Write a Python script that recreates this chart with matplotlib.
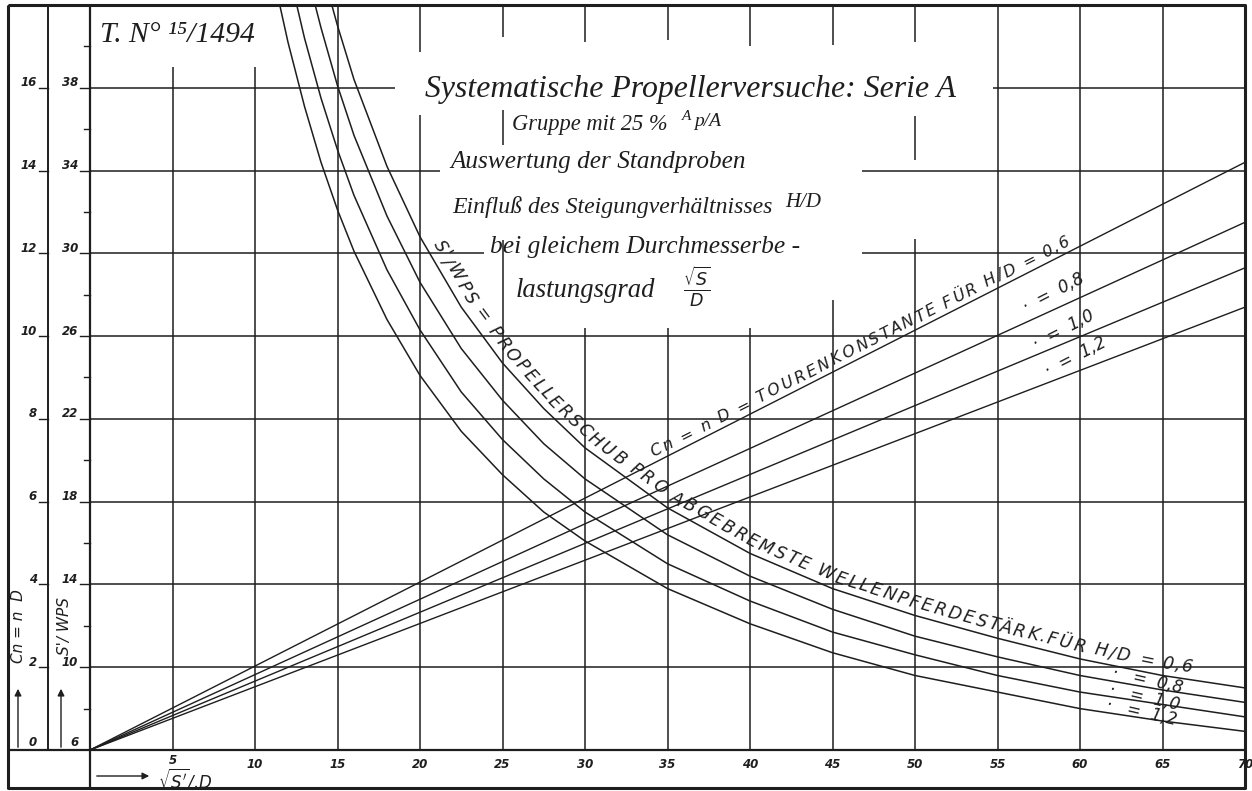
import numpy as np
import matplotlib
matplotlib.use("Agg")
import matplotlib.pyplot as plt
from matplotlib.lines import Line2D
from matplotlib.font_manager import FontProperties
from matplotlib.transforms import IdentityTransform, blended_transform_factory

# ---------------------------------------------------------------- data ----
pitch_labels = ["0,6", "0,8", "1,0", "1,2"]

# Cn = n*D (Tourenkonstante), straight lines through the origin
cn_x = [0, 70]
cn_06 = [0, 14.2]
cn_08 = [0, 12.75]
cn_10 = [0, 11.65]
cn_12 = [0, 10.7]

# S'/WPS (Propellerschub pro abgebremste Wellenpferdestaerke)
x_06 = [14, 15, 16, 18, 20, 22.5, 25, 27.5, 30, 35, 40, 45, 50, 55, 60, 65, 70]
s_06 = [43.9, 41.0, 38.4, 34.2, 30.8, 27.4, 24.7, 22.5, 20.6, 17.7, 15.5, 13.8,
        12.5, 11.4, 10.4, 9.6, 9.0]
x_08 = [13, 14, 15, 16, 18, 20, 22.5, 25, 27.5, 30, 35, 40, 45, 50, 55, 60, 65, 70]
s_08 = [44.0, 40.9, 38.1, 35.7, 31.8, 28.6, 25.4, 22.9, 20.8, 19.1, 16.4, 14.4,
        12.8, 11.5, 10.5, 9.6, 8.9, 8.3]
x_10 = [12, 13, 14, 15, 16, 18, 20, 22.5, 25, 27.5, 30, 35, 40, 45, 50, 55, 60,
        65, 70]
s_10 = [43.8, 40.4, 37.5, 35.0, 32.8, 29.2, 26.3, 23.3, 21.0, 19.1, 17.5, 15.0,
        13.2, 11.7, 10.6, 9.6, 8.8, 8.2, 7.6]
x_12 = [11, 12, 13, 14, 15, 16, 18, 20, 22.5, 25, 27.5, 30, 35, 40, 45, 50, 55,
        60, 65, 70]
s_12 = [43.8, 40.2, 37.1, 34.4, 32.1, 30.1, 26.8, 24.1, 21.4, 19.3, 17.5, 16.1,
        13.8, 12.1, 10.7, 9.6, 8.8, 8.0, 7.4, 6.9]

x_ticks = [5, 10, 15, 20, 25, 30, 35, 40, 45, 50, 55, 60, 65, 70]
cn_ticks = [2, 4, 6, 8, 10, 12, 14, 16]
swps_ticks = [10, 14, 18, 22, 26, 30, 34, 38]

# ------------------------------------------------------------- layout ----
W, H = 1252, 791
INK = "#1e1e1e"
fig = plt.figure(figsize=(W / 100, H / 100), dpi=100)
fig.patch.set_facecolor("white")
renderer = fig.canvas.get_renderer()

X0, X1 = 90, 1245      # pixel columns of sqrt(S')/D = 0 and 70
Y0, Y1 = 750, 5        # pixel rows of the base line and the top frame
CN_TOP = 18.0

ax = fig.add_axes([X0 / W, 1 - Y0 / H, (X1 - X0) / W, (Y0 - Y1) / H])
ax.set_xlim(0, 70)
ax.set_ylim(0, CN_TOP)
ax.axis("off")
ax2 = ax.twinx()
ax2.set_ylim(6, 6 + 2 * CN_TOP)   # S'/WPS = 6 + 2*Cn on the drawing
ax2.axis("off")


def fx(px):
    return px / W


def fy(py):
    return 1 - py / H


def fig_line(xs, ys, lw=1.0):
    fig.add_artist(Line2D([fx(v) for v in xs], [fy(v) for v in ys],
                          transform=fig.transFigure, color=INK, lw=lw,
                          solid_capstyle="butt"))


# ---------------------------------------------------------------- grid ----
GRID_LW = 1.1
h_segments = {16: [(0, 18.5), (54.7, 70)],
              14: [(0, 21.2), (46.8, 70)],
              12: [(0, 23.9), (46.8, 70)]}
for c in cn_ticks:
    for a, b in h_segments.get(c, [(0, 70)]):
        ax.hlines(c, a, b, color=INK, lw=GRID_LW)

v_segments = {5: [(0, 16.5)], 10: [(0, 16.5)],
              20: [(0, 15.34), (16.86, 18)],
              25: [(0, 12.32), (14.62, 15.46), (17.23, 18)],
              30: [(0, 10.2), (17.1, 18)],
              35: [(0, 10.2), (17.15, 18)],
              40: [(0, 10.2), (17.0, 18)],
              45: [(0, 10.87), (17.03, 18)],
              50: [(0, 12.35), (14.25, 15.32), (17.1, 18)]}
for xv in x_ticks[:-1]:
    for a, b in v_segments.get(xv, [(0, 18)]):
        ax.vlines(xv, a, b, color=INK, lw=GRID_LW)

# --------------------------------------------------------------- frame ----
fig_line([8, X1, X1, 8, 8], [Y1, Y1, 788, 788, Y1], lw=2.2)
fig_line([48, 48], [Y1, Y0], lw=1.4)
fig_line([X0, X0], [Y1, 788], lw=1.6)
fig_line([8, X1], [Y0, Y0], lw=1.6)

# ---------------------------------------------------------------- marks ----
for ys in (cn_06, cn_08, cn_10, cn_12):
    ax.plot(cn_x, ys, color=INK, lw=1.0, solid_capstyle="butt")
for xs, ys in ((x_06, s_06), (x_08, s_08), (x_10, s_10), (x_12, s_12)):
    ax2.plot(xs, ys, color=INK, lw=1.1)

# ----------------------------------------------------------- axis texts ----
tick_fp = dict(family="DejaVu Sans", style="italic", weight="bold",
               fontsize=8.5, color=INK)
cn_tr = blended_transform_factory(fig.transFigure, ax.transData)
sw_tr = blended_transform_factory(fig.transFigure, ax2.transData)
for c in cn_ticks:
    ax.text(fx(37), c + 0.12, str(c), transform=cn_tr, ha="right", va="center",
            **tick_fp)
    fig.add_artist(Line2D([fx(39), fx(48)], [c, c], transform=cn_tr,
                          color=INK, lw=1.0))
for s in swps_ticks:
    ax2.text(fx(78), s + 0.24, str(s), transform=sw_tr, ha="right",
             va="center", **tick_fp)
    fig.add_artist(Line2D([fx(80), fx(X0)], [s, s], transform=sw_tr,
                          color=INK, lw=1.0))
for c in range(1, 18, 2):
    fig.add_artist(Line2D([fx(84), fx(X0)], [c, c], transform=cn_tr,
                          color=INK, lw=1.0))
fig.text(fx(37), fy(743), "0", ha="right", va="center", **tick_fp)
fig.text(fx(79), fy(743), "6", ha="right", va="center", **tick_fp)

x_tr = blended_transform_factory(ax.transData, fig.transFigure)
for xv in x_ticks:
    ax.text(xv, fy(765 if xv > 5 else 761), str(xv), transform=x_tr,
            ha="center", va="center", clip_on=False, **tick_fp)

fig.text(fx(158), fy(779), r"$\sqrt{S'}$/.D", ha="left", va="center",
         family="DejaVu Sans", style="italic", fontsize=12, color=INK)
arrow = dict(arrowstyle="-|>", lw=1.0, color=INK, mutation_scale=10)
ax.annotate("", xy=(152, H - 776), xytext=(94, H - 776),
            xycoords="figure pixels", textcoords="figure pixels",
            arrowprops=arrow, annotation_clip=False)
for px in (18, 61):
    ax.annotate("", xy=(px, H - 686), xytext=(px, H - 750),
                xycoords="figure pixels", textcoords="figure pixels",
                arrowprops=arrow, annotation_clip=False)
fig.text(fx(19), fy(626), "Cn = n  D", rotation=90, ha="center", va="center",
         family="DejaVu Sans", style="italic", fontsize=11, color=INK)
fig.text(fx(64), fy(626), "S'/ WPS", rotation=90, ha="center", va="center",
         family="DejaVu Sans", style="italic", fontsize=11, color=INK)

# ---------------------------------------------------------------- title ----
SCRIPT = dict(family="Liberation Serif", style="italic", color=INK)


def fit_text(x0, x1, yb, s, size=16, **kw):
    t = fig.text(fx(x0), fy(yb), s, ha="left", va="baseline", fontsize=size,
                 **kw)
    w = t.get_window_extent(renderer).width
    t.set_fontsize(size * (x1 - x0) / w)
    return t


fit_text(100, 255, 42, "T. N° ¹⁵/1494", **SCRIPT)
fit_text(425, 955, 97, "Systematische Propellerversuche: Serie A", **SCRIPT)
fit_text(512, 668, 130, "Gruppe mit 25 %", **SCRIPT)
fig.text(fx(682), fy(120), "A", ha="left", va="baseline", fontsize=11,
         **SCRIPT)
fig.text(fx(694), fy(126), "p/A", ha="left", va="baseline", fontsize=14,
         **SCRIPT)
fit_text(450, 745, 168, "Auswertung der Standproben", **SCRIPT)
fit_text(452, 772, 213, "Einfluß des Steigungverhältnisses", **SCRIPT)
fig.text(fx(785), fy(207), "H/D", ha="left", va="baseline", fontsize=15,
         **SCRIPT)
fit_text(490, 800, 253, "bei gleichem Durchmesserbe -", **SCRIPT)
fit_text(516, 655, 297, "lastungsgrad", **SCRIPT)
fig.text(fx(697), fy(287), r"$\frac{\sqrt{S}}{D}$", ha="center", va="center",
         fontsize=18, color=INK)

# ------------------------------------------------------ labels on lines ----
LETTER = FontProperties(family="DejaVu Sans", style="oblique", size=12.5)
LETTER_CN = FontProperties(family="DejaVu Sans", style="oblique", size=11.5)


def text_on_path(trans, xs, ys, text, px_a, px_b, offset, fp):
    pts = trans.transform(np.column_stack([xs, ys]))
    seg = np.hypot(np.diff(pts[:, 0]), np.diff(pts[:, 1]))
    arc = np.concatenate([[0.0], np.cumsum(seg)])
    s_a = np.interp(px_a, pts[:, 0], arc)
    s_b = np.interp(px_b, pts[:, 0], arc)
    bar = renderer.get_text_width_height_descent("|", fp, ismath=False)[0]
    cum = [0.0] + [renderer.get_text_width_height_descent(text[:i] + "|", fp,
                                                          ismath=False)[0] - bar
                   for i in range(1, len(text) + 1)]
    scale = (s_b - s_a) / cum[-1]
    for i, ch in enumerate(text):
        if ch == " ":
            continue
        s = s_a + scale * 0.5 * (cum[i] + cum[i + 1])
        p = np.array([np.interp(s, arc, pts[:, 0]), np.interp(s, arc, pts[:, 1])])
        q0 = np.array([np.interp(s - 12, arc, pts[:, 0]),
                       np.interp(s - 12, arc, pts[:, 1])])
        q1 = np.array([np.interp(s + 12, arc, pts[:, 0]),
                       np.interp(s + 12, arc, pts[:, 1])])
        t = (q1 - q0) / np.hypot(*(q1 - q0))
        n = np.array([-t[1], t[0]])
        pos = p + offset * n
        fig.text(pos[0], pos[1], ch, transform=IdentityTransform(),
                 fontproperties=fp, color=INK, ha="center", va="center",
                 rotation=np.degrees(np.arctan2(t[1], t[0])),
                 rotation_mode="anchor")


text_on_path(ax2.transData, x_06, s_06,
             "S'/WPS = PROPELLERSCHUB PRO ABGEBREMSTE WELLENPFERDESTÄRK.FÜR "
             "H/D = 0,6", 426, 1192, 12, LETTER)
text_on_path(ax.transData, cn_x, cn_06,
             "Cn = n D = TOURENKONSTANTE FÜR H/D = 0,6", 655, 1075, 10,
             LETTER_CN)

small = FontProperties(family="DejaVu Sans", style="oblique", size=12)
for lab, (px, py) in zip(pitch_labels[1:], [(1054, 293), (1064, 330),
                                            (1076, 357)]):
    fig.text(px, H - py, "·  =  " + lab, transform=IdentityTransform(),
             fontproperties=small, color=INK, ha="center", va="center",
             rotation=27, rotation_mode="anchor")
for lab, (px, py) in zip(pitch_labels[1:], [(1148, 680), (1145, 697),
                                            (1142, 712)]):
    fig.text(px, H - py, "·   =  " + lab, transform=IdentityTransform(),
             fontproperties=small, color=INK, ha="center", va="center",
             rotation=-13, rotation_mode="anchor")

fig.savefig("out.png", dpi=100, facecolor="white")
